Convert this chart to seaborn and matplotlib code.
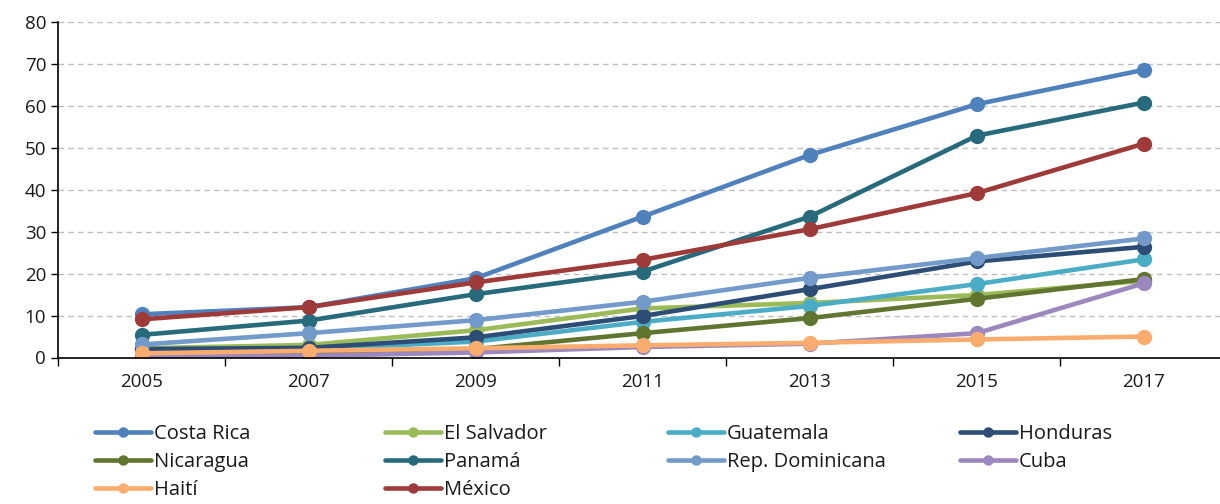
import pandas as pd
import numpy as np
import matplotlib
matplotlib.use('Agg')
import matplotlib.pyplot as plt
from matplotlib.lines import Line2D
from matplotlib.ticker import MultipleLocator
import seaborn as sns

years = [2005, 2007, 2009, 2011, 2013, 2015, 2017]

costa_rica = [10.3, 12.0, 18.9, 33.6, 48.3, 60.4, 68.6]
el_salvador = [2.2, 3.0, 6.5, 11.7, 13.0, 14.9, 18.3]
guatemala = [1.5, 2.0, 3.8, 8.5, 12.3, 17.5, 23.4]
honduras = [2.0, 2.3, 4.8, 9.9, 16.3, 22.9, 26.4]
nicaragua = [0.1, 1.0, 2.0, 5.8, 9.4, 14.0, 18.7]
panama = [5.4, 8.8, 15.1, 20.5, 33.6, 52.9, 60.8]
rep_dominicana = [3.1, 5.8, 8.9, 13.3, 19.0, 23.7, 28.4]
cuba = [0.5, 0.4, 1.2, 2.5, 3.3, 5.8, 17.7]
haiti = [1.0, 1.6, 2.2, 2.9, 3.5, 4.3, 5.0]
mexico = [9.1, 12.0, 17.9, 23.3, 30.6, 39.2, 51.0]

countries = ['Costa Rica', 'El Salvador', 'Guatemala', 'Honduras', 'Nicaragua',
             'Panamá', 'Rep. Dominicana', 'Cuba', 'Haití', 'México']
series = [costa_rica, el_salvador, guatemala, honduras, nicaragua,
          panama, rep_dominicana, cuba, haiti, mexico]
colors = ['#4F81BD', '#9BBB59', '#4BACC6', '#2C4D75', '#5F7530',
          '#276A7C', '#729ACA', '#9C87BE', '#F9AC6E', '#9E3A38']

rows = []
for name, vals in zip(countries, series):
    for yr, v in zip(years, vals):
        rows.append({'year': yr, 'value': v, 'country': name})
df = pd.DataFrame(rows)

sns.set_style('white')
plt.rcParams['font.family'] = ['Open Sans', 'DejaVu Sans']

fig = plt.figure(figsize=(12.2, 5.04), dpi=100)
ax = fig.add_axes([58 / 1220, 1 - 357.5 / 504, 1169.5 / 1220, 335.5 / 504])

sns.lineplot(data=df, x='year', y='value', hue='country', hue_order=countries,
             palette=dict(zip(countries, colors)), marker='o', markersize=11,
             markeredgewidth=0, linewidth=3.3, legend=False, ax=ax)

ax.set_xlim(2004, 2018)
ax.set_ylim(0, 80)
ax.set_xlabel('')
ax.set_ylabel('')

ax.set_xticks(years)
ax.set_xticklabels([str(y) for y in years])
ax.set_xticks(np.arange(2004, 2019, 2), minor=True)
ax.tick_params(axis='x', which='major', length=0, pad=11, labelsize=13.5, colors='#1a1a1a')
ax.tick_params(axis='x', which='minor', length=6, width=1, color='black', direction='out', bottom=True)

ax.yaxis.set_major_locator(MultipleLocator(10))
ax.tick_params(axis='y', which='major', length=5, width=1, color='black', direction='out',
               pad=3.5, labelsize=13.5, left=True, labelcolor='#1a1a1a')

ax.grid(False)
for v in range(10, 81, 10):
    ax.axhline(v, color='#BFBFBF', linewidth=1, linestyle=(0, (4, 3)), zorder=0)

for s in ['top', 'right']:
    ax.spines[s].set_visible(False)
ax.spines['left'].set_color('black')
ax.spines['left'].set_linewidth(1.2)
ax.spines['bottom'].set_color('black')
ax.spines['bottom'].set_linewidth(1.2)

# legend laid out in fixed-width columns like the original
col_items = [['Costa Rica', 'Nicaragua', 'Haití'],
             ['El Salvador', 'Panamá', 'México'],
             ['Guatemala', 'Rep. Dominicana'],
             ['Honduras', 'Cuba']]
col_x = [95, 385, 668, 960]
cmap = dict(zip(countries, colors))
for items, x in zip(col_items, col_x):
    handles = [Line2D([0], [0], color=cmap[n], linewidth=3.3, marker='o', markersize=7.5,
                      markeredgewidth=0) for n in items]
    leg = fig.legend(handles, items, loc='upper left',
                     bbox_to_anchor=(x / 1220, 1 - 424 / 504), frameon=False,
                     borderpad=0, borderaxespad=0, handlelength=2.8, handletextpad=0.12,
                     labelspacing=0.4, fontsize=14.5)
    for t in leg.get_texts():
        t.set_color('#1a1a1a')

fig.savefig('out.png', dpi=100)
